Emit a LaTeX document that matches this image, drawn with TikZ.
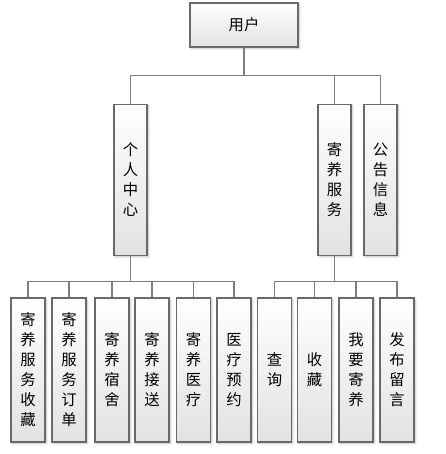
\documentclass[tikz,border=0pt]{standalone}
\usepackage{fontspec}
\newfontfamily\cjk{Noto Sans CJK SC}
\usetikzlibrary{shadows.blur}
\definecolor{boxline}{RGB}{105,105,105}
\definecolor{linkline}{RGB}{125,125,125}
\definecolor{boxbottom}{RGB}{226,226,226}

\begin{document}
\begin{tikzpicture}[x=0.75pt, y=-0.75pt, font=\cjk\fontsize{11.5}{15}\selectfont,
box/.style={draw=boxline, line width=0.9pt, top color=white, bottom color=boxbottom, align=center, inner sep=0pt, blur shadow={shadow xshift=1pt, shadow yshift=-1pt, shadow blur steps=4, shadow opacity=25}},
tall/.style={box, minimum width=24.75pt, minimum height=113.25pt},
leaf/.style={box, minimum width=25.5pt, minimum height=108pt},
link/.style={draw=linkline, line width=0.8pt}]
\useasboundingbox (0,0) rectangle (446,454);
% top and second level
\node[box, minimum width=81pt, minimum height=33pt] (user) at (244,25) {用户};
\node[tall] (pc) at (130.5,180) {个\\人\\中\\心};
\node[tall] (js) at (334.5,180) {寄\\养\\服\\务};
\node[tall] (gg) at (380.5,180) {公\\告\\信\\息};
% leaves of 个人中心
\node[leaf] (sc) at (28,370) {寄\\养\\服\\务\\收\\藏};
\node[leaf] (dd) at (69,370) {寄\\养\\服\\务\\订\\单};
\node[leaf] (ss) at (112,370) {寄\\养\\宿\\舍};
\node[leaf] (js2) at (152,370) {寄\\养\\接\\送};
\node[leaf] (yl) at (193.5,370) {寄\\养\\医\\疗};
\node[leaf] (yy) at (234,370) {医\\疗\\预\\约};
% leaves of 寄养服务
\node[leaf] (cx) at (274.5,370) {查\\询};
\node[leaf] (shc) at (314.5,370) {收\\藏};
\node[leaf] (wy) at (356,370) {我\\要\\寄\\养};
\node[leaf] (fb) at (397,370) {发\\布\\留\\言};
% connectors
\draw[link] (user.south) -- ++(0,28) coordinate (t0);
\draw[link] (t0) -| (pc.north);
\draw[link] (t0) -| (js.north);
\draw[link] (t0) -| (gg.north);
\draw[link] (pc.south) -- ++(0,25) coordinate (t1);
\draw[link] (t1) -| (sc.north);
\draw[link] (t1) -| (dd.north);
\draw[link] (t1) -| (ss.north);
\draw[link] (t1) -| (js2.north);
\draw[link] (t1) -| (yl.north);
\draw[link] (t1) -| (yy.north);
\draw[link] (js.south) -- ++(0,25) coordinate (t2);
\draw[link] (t2) -| (cx.north);
\draw[link] (t2) -| (shc.north);
\draw[link] (t2) -| (wy.north);
\draw[link] (t2) -| (fb.north);
\end{tikzpicture}
\end{document}
